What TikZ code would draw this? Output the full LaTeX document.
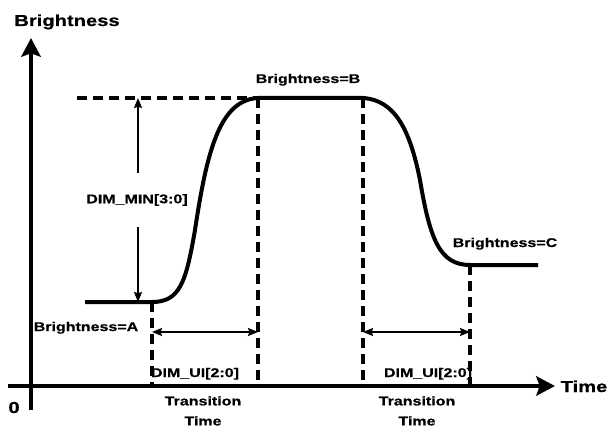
\documentclass[tikz,border=0pt]{standalone}
\usepackage{fontspec}
\setmainfont{Liberation Sans}[FakeStretch=1.27,BoldFeatures={FakeBold=0.6}]
\usetikzlibrary{arrows.meta}
\begin{document}
\begin{tikzpicture}[x=0.75pt,y=-0.75pt,
  axis/.style={line width=3pt,-{Stealth[length=14pt,width=14.5pt,inset=2.5pt]}},
  curve/.style={line width=3pt,line join=round},
  guide/.style={line width=2.4pt,dash pattern=on 7.5pt off 4.5pt},
  dimarr/.style={line width=1.3pt,-{Stealth[length=7.5pt,width=6pt,inset=1pt]}},
  dimboth/.style={line width=1.3pt,{Stealth[length=7.5pt,width=6pt,inset=1pt]}-{Stealth[length=7.5pt,width=6pt,inset=1pt]}},
  lbl/.style={font=\fontsize{9.45}{15}\selectfont\bfseries,inner sep=0pt},
  big/.style={font=\fontsize{11.9}{14}\selectfont\bfseries,inner sep=0pt}]
\useasboundingbox (0,0) rectangle (609,431);
% axes
\coordinate (yb) at (31,410);
\coordinate (yt) at (31,38);
\coordinate (xl) at (8,386);
\coordinate (xr) at (555,386);
\draw[axis] (yb) -- (yt);
\draw[axis] (xl) -- (xr);
\node[big,anchor=base] (ylab) at (67,26) {Brightness};
\node[big,anchor=base] (xlab) at (584,392) {Time};
\node[big,anchor=base] (zero) at (14,413) {0};
% key points
\coordinate (A0) at (85,302);
\coordinate (A1) at (152,302);
\coordinate (B0) at (258,98);
\coordinate (B1) at (363,98);
\coordinate (C0) at (470,265);
\coordinate (C1) at (538,265);
\coordinate (T0) at (77,98);
\coordinate (A1x) at (152,386);
\coordinate (B0x) at (258,386);
\coordinate (B1x) at (363,386);
\coordinate (C0x) at (470,386);
% guides
\draw[guide] (T0) -- (B0);
\draw[guide] (A1) -- (A1x);
\draw[guide] (B0) -- (B0x);
\draw[guide] (B1) -- (B1x);
\draw[guide] (C0) -- (C0x);
% curve
\draw[curve] (A0) -- (A1) .. controls (180,302) and (186,282) .. (195,230)
  .. controls (207,150) and (220,100) .. (B0) -- (B1)
  .. controls (395,100) and (410,130) .. (420,180)
  .. controls (430,240) and (440,265) .. (C0) -- (C1);
% DIM_MIN
\coordinate (DT) at (138,98);
\coordinate (DB) at (138,302);
\node[lbl,minimum height=40.5pt] (dimmin) at (137,200) {DIM\_MIN[3:0]};
\draw[dimarr] (dimmin.north -| DT) -- (DT);
\draw[dimarr] (dimmin.south -| DB) -- (DB);
% transition arrows
\coordinate (L1) at (152,332);
\coordinate (L2) at (258,332);
\coordinate (R1) at (363,332);
\coordinate (R2) at (470,332);
\draw[dimboth] (L1) -- (L2);
\draw[dimboth] (R1) -- (R2);
% labels
\node[lbl,anchor=base] (bA) at (86,331) {Brightness=A};
\node[lbl,anchor=base] (bB) at (308,83) {Brightness=B};
\node[lbl,anchor=base] (bC) at (505,247) {Brightness=C};
\node[lbl,anchor=base] (uiL) at (195,377) {DIM\_UI[2:0]};
\node[lbl,anchor=base] (uiR) at (428,377) {DIM\_UI[2:0]};
\node[lbl,align=center,anchor=north] (ttL) at (203,396) {Transition\\Time};
\node[lbl,align=center,anchor=north] (ttR) at (417,396) {Transition\\Time};
\end{tikzpicture}
\end{document}
